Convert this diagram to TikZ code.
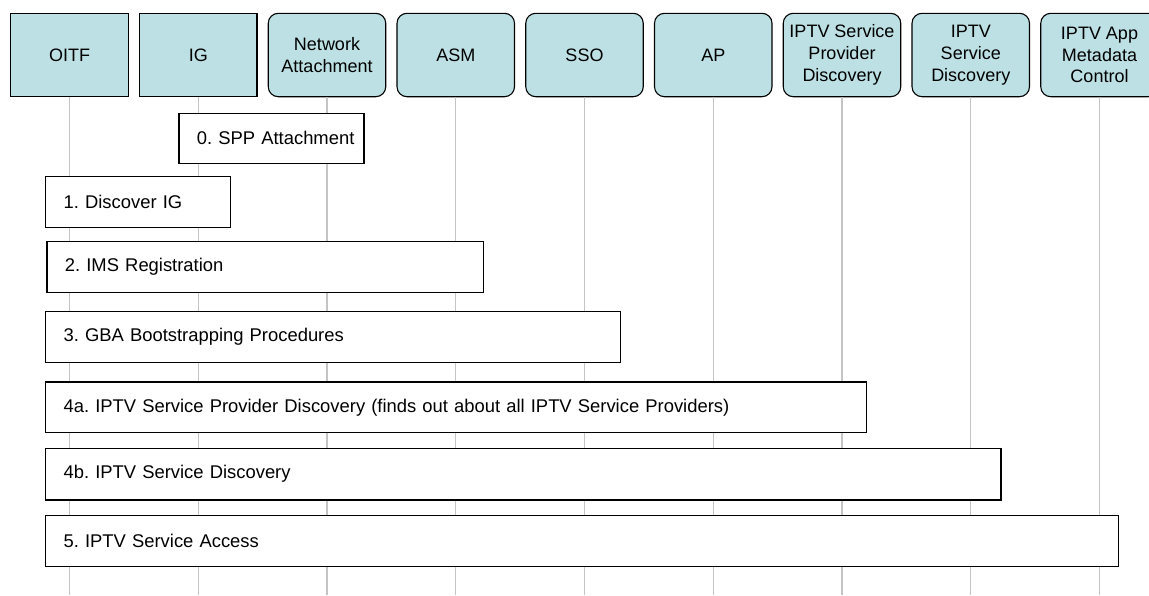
\documentclass[tikz,border=0pt]{standalone}
\usepackage{fontspec}
\setmainfont{Liberation Sans}
\frenchspacing
\definecolor{hdrfill}{RGB}{188,224,227}
\definecolor{lifegray}{RGB}{196,196,196}
\tikzset{
  hdr/.style={draw=black, line width=1.1pt, fill=hdrfill, minimum width=117.5pt, minimum height=83.4pt,
    inner sep=0pt, align=center, font=\fontsize{18}{21.7}\selectfont},
  hdrsq/.style={hdr},
  hdrrd/.style={hdr, rounded corners=10pt},
  lifeline/.style={draw=lifegray, line width=1.3pt},
  stepbox/.style={draw=black, line width=1.2pt, fill=white, anchor=north west, inner xsep=18pt, inner ysep=0pt,
    align=left, font=\fontsize{18.4}{22}\selectfont}
}
\begin{document}
\begin{tikzpicture}[x=1pt,y=-1pt]
\useasboundingbox (0,0) rectangle (1149,595);
% headers
\node[hdrsq] (oitf) at (69.5,55) {OITF};
\node[hdrsq] (ig) at (198.25,55) {IG};
\node[hdrrd] (na) at (327,55) {Network\\Attachment};
\node[hdrrd] (asm) at (455.75,55) {ASM};
\node[hdrrd] (sso) at (584.5,55) {SSO};
\node[hdrrd] (ap) at (713.25,55) {AP};
\node[hdrrd] (spd) at (842,55) {IPTV Service\\Provider\\Discovery};
\node[hdrrd] (sd) at (970.75,55) {IPTV\\Service\\Discovery};
\node[hdrrd] (app) at (1099.5,55) {IPTV App\\Metadata\\Control};
% lifelines
\foreach \n/\x in {oitf/69.5, ig/198.25, na/327, asm/455.75, sso/584.5, ap/713.25, spd/842, sd/970.75, app/1099.5}{
  \coordinate (\n-end) at (\x,595);
  \draw[lifeline] (\n.south) -- (\n-end);
}
% steps
\node[stepbox, minimum height=50pt, text width=149pt] (s0) at (178.3,112.7) {\mbox{0. SPP Attachment}};
\node[stepbox, minimum height=50.7pt, text width=149pt] (s1) at (45,176) {\mbox{1. Discover IG}};
\node[stepbox, minimum height=50.7pt, text width=400.4pt] (s2) at (46.3,241) {\mbox{2. IMS Registration}};
\node[stepbox, minimum height=50.7pt, text width=539pt] (s3) at (45,311) {\mbox{3. GBA Bootstrapping Procedures}};
\node[stepbox, minimum height=50.7pt, text width=785pt] (s4a) at (45,381.3) {\mbox{4a. IPTV Service Provider Discovery (finds out about all IPTV Service Providers)}};
\node[stepbox, minimum height=51.6pt, text width=919.3pt] (s4b) at (45,447.7) {\mbox{4b. IPTV Service Discovery}};
\node[stepbox, minimum height=50.7pt, text width=1037pt] (s5) at (45,515) {\mbox{5. IPTV Service Access}};
\end{tikzpicture}
\end{document}
